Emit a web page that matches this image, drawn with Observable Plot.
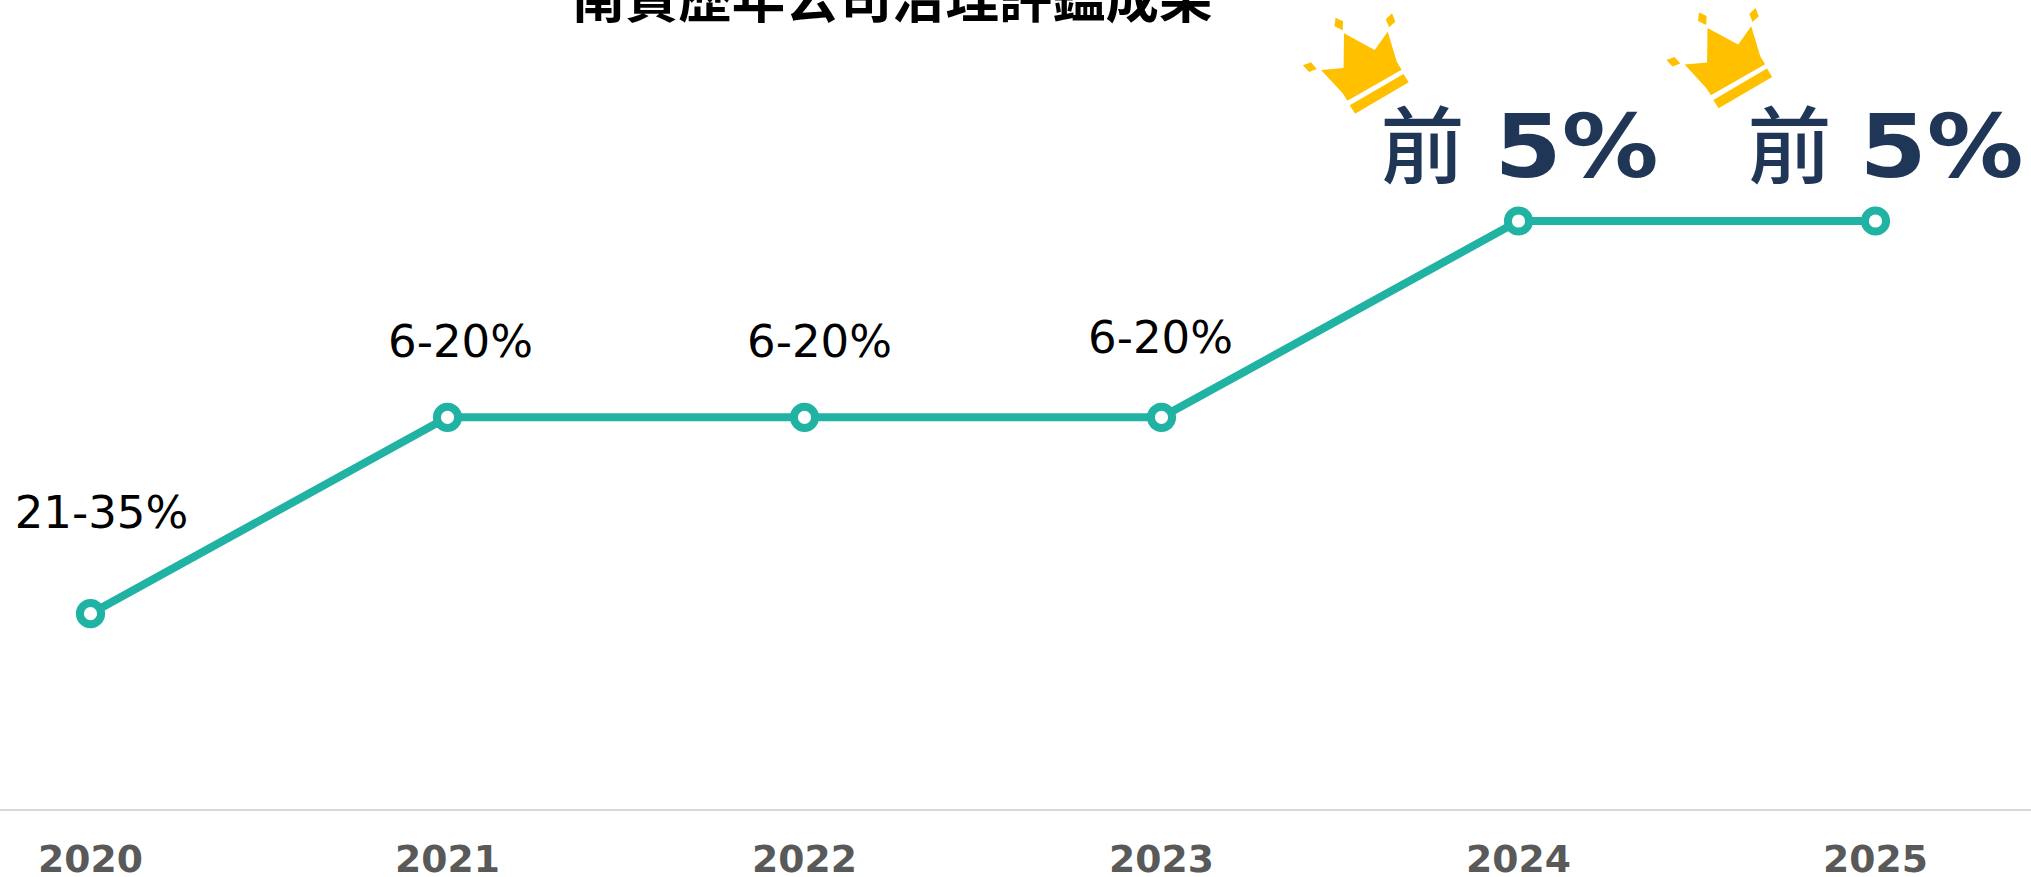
<!DOCTYPE html>
<html><head><meta charset="utf-8">
<script src="https://cdn.jsdelivr.net/npm/d3@7"></script>
<script src="https://cdn.jsdelivr.net/npm/@observablehq/plot@0.6"></script>
<style>html,body{margin:0;padding:0;background:#fff;overflow:hidden}svg{display:block}</style>
</head><body><div id="chart"></div>
<script>
const years = ["2020","2021","2022","2023","2024","2025"];
const tiers = [0,1,1,1,2,2];
const tierLabels = ["21-35%","6-20%","6-20%","6-20%","前","前"];
const titleText = "南資歷年公司治理評鑑成果";
const rows = years.map((year,i)=>({year,tier:tiers[i],label:tierLabels[i]}));
const FONT = "'DejaVu Sans','Noto Sans CJK TC',sans-serif";
const TEAL = "#20B2A2", NAVY = "#1F3657";

const crownSvg = `<svg xmlns="http://www.w3.org/2000/svg" viewBox="1300 10 115 108" width="115" height="108"><g fill="#FFC000"><path d="M1346 33.3L1376.7 50L1389.7 31.7L1398.8 61.7L1403.6 69.7L1349.4 100.7L1344.7 93.3L1323.1 70L1345.6 68Z"/><path d="M1405.5 74L1410.7 82.3L1357.1 113.7L1351.8 105.3Z"/><path d="M1337.5 17.7L1345.1 21.3L1344.7 30.3L1336.5 26.3Z"/><path d="M1394 13.3L1397.3 21.7L1391.1 27.3L1387.8 19.3Z"/><path d="M1304.9 65.3L1313 62.3L1318.8 69L1311.1 72Z"/></g></svg>`;
const crownHref = "data:image/svg+xml;base64," + btoa(crownSvg);

const labelAt = (year,dx,dy)=>Plot.text(rows.filter(d=>d.year===year),{x:"year",y:"tier",text:"label",dx,dy,fontSize:45,fill:"#000",fontFamily:FONT});
const stretch = (i,s,v,d,c,next)=>{
  const g = next(i,s,v,d,c);
  d3.select(g).selectAll("text").attr("textLength",164).attr("lengthAdjust","spacingAndGlyphs");
  return g;
};
const topAt = (year,dxa,dxb)=>[
  Plot.text(rows.filter(d=>d.year===year),{x:"year",y:"tier",text:"label",dx:dxa,dy:-71,fontSize:84,fontWeight:500,fill:NAVY,fontFamily:FONT}),
  Plot.text(rows.filter(d=>d.year===year),{x:"year",y:"tier",text:()=>"5%",dx:dxb,dy:-72,fontSize:87,fontWeight:700,fill:NAVY,fontFamily:FONT,render:stretch})
];
const crownAt = (year,dx,dy)=>Plot.image(rows.filter(d=>d.year===year),{x:"year",y:"tier",src:()=>crownHref,width:115,height:108,dx,dy});

const chart = Plot.plot({
  width:2031,height:877,marginTop:0,marginLeft:0,marginRight:0,marginBottom:67,
  style:{background:"#fff",fontFamily:FONT},
  x:{type:"point",domain:years,range:[88,1877.8],padding:0,label:null},
  y:{domain:[-1,2],range:[809.5,220.5],axis:null},
  marks:[
    Plot.ruleY([-1],{stroke:"#D9D9D9",strokeWidth:2}),
    Plot.axisX({tickSize:0,tickPadding:35,fontSize:37.7,fontWeight:700,fill:"#595959",label:null,fontFamily:FONT}),
    Plot.line(rows,{x:"year",y:"tier",stroke:TEAL,strokeWidth:8}),
    Plot.dot(rows,{x:"year",y:"tier",r:10.6,fill:"#fff",stroke:TEAL,strokeWidth:8}),
    labelAt("2020",11,-100),
    labelAt("2021",13,-75),
    labelAt("2022",15,-75),
    labelAt("2023",-1,-79),
    ...topAt("2024",-96,58),
    ...topAt("2025",-86,66),
    crownAt("2024",-163,-157),
    crownAt("2025",-156.5,-162.4),
    Plot.text([titleText],{frameAnchor:"top",dy:0,dx:-124,text:d=>d,fontSize:53.4,fontWeight:700,fill:"#000",fontFamily:FONT,lineAnchor:"middle"})
  ]
});
document.getElementById("chart").append(chart);
</script></body></html>
